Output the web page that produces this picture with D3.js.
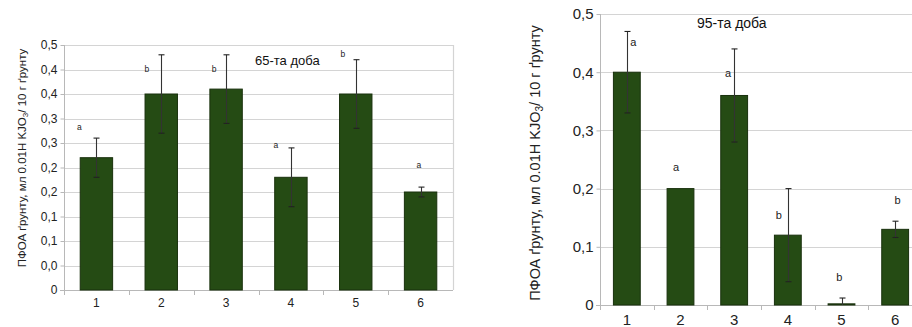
<!DOCTYPE html>
<html><head><meta charset="utf-8">
<script src="https://cdn.jsdelivr.net/npm/d3@7"></script>
<style>
html,body{margin:0;padding:0;background:#fff;overflow:hidden}
svg{display:block;font-family:"Liberation Sans",Arial,sans-serif}
</style></head><body>
<script>
// ---- data ----
const categories = ["1","2","3","4","5","6"];
// 65th day
const day65Means = [0.27, 0.40, 0.41, 0.23, 0.40, 0.20];
const day65Errors = [0.04, 0.08, 0.07, 0.06, 0.07, 0.01];
const day65Letters = ["a","b","b","a","b","a"];
const day65LetterValues = [0.327, 0.445, 0.445, 0.29, 0.476, 0.249];
const day65TickValues = [0,0.05,0.1,0.15,0.2,0.25,0.3,0.35,0.4,0.45,0.5];
const day65TickLabels = ["0","0,0","0,1","0,1","0,2","0,2","0,3","0,3","0,4","0,4","0,5"];
// 95th day
const day95Means = [0.40, 0.20, 0.36, 0.12, 0.002, 0.13];
const day95Errors = [0.07, 0, 0.08, 0.08, 0.01, 0.014];
const day95Letters = ["a","a","a","b","b","b"];
const day95LetterValues = [0.4455, 0.231, 0.391, 0.147, 0.042, 0.1735];
const day95TickValues = [0,0.1,0.2,0.3,0.4,0.5];
const day95TickLabels = ["0","0,1","0,2","0,3","0,4","0,5"];
const yTitle = ["ПФОА ґрунту, мл 0.01Н KJO", "3", "/ 10 г ґрунту"];

// ---- layout ----
const W = 912, H = 327;
const svg = d3.select("body").append("svg").attr("width", W).attr("height", H);

function drawChart(cfg) {
  const x = d3.scaleBand().domain(categories).range([cfg.x0, cfg.x1]).padding(0);
  const y = d3.scaleLinear().domain([0, 0.5]).range([cfg.y0, cfg.y1]);
  const g = svg.append("g");
  const bw = x.bandwidth() * 0.5;

  // gridlines
  g.selectAll(".grid").data(cfg.ticks.slice(1)).join("line")
    .attr("x1", cfg.x0).attr("x2", cfg.x1)
    .attr("y1", d => Math.round(y(d)) + 0.5).attr("y2", d => Math.round(y(d)) + 0.5)
    .attr("stroke", "#d4d4d4").attr("stroke-width", 1.2);
  if (cfg.rightBorder) {
    g.append("line").attr("x1", cfg.x1 + 0.5).attr("x2", cfg.x1 + 0.5)
      .attr("y1", cfg.y1).attr("y2", cfg.y0).attr("stroke", "#d4d4d4").attr("stroke-width", 1.2);
  }

  // y axis
  const yAxis = d3.axisLeft(y).tickValues(cfg.ticks).tickSize(4).tickPadding(3)
    .tickFormat((d, i) => cfg.tickLabels[i]);
  const ya = g.append("g").attr("transform", `translate(${cfg.x0 + 0.5},0)`).call(yAxis);
  ya.select(".domain").attr("stroke", "#b8b8b8").attr("d", `M0,${cfg.y0}V${cfg.y1}`);
  ya.selectAll(".tick line").attr("stroke", "#b8b8b8");
  ya.selectAll(".tick text").attr("fill", "#222").style("font-size", cfg.tickFont + "px")
    .style("font-family", "Liberation Sans, Arial, sans-serif");

  // x axis
  const xa = g.append("g").attr("transform", `translate(0,${Math.round(cfg.y0) + 0.5})`)
    .call(d3.axisBottom(x).tickSize(0).tickPadding(cfg.xPad));
  xa.select(".domain").attr("stroke", "#b8b8b8").attr("d", `M${cfg.x0 - 4},0H${cfg.x1}`);
  xa.selectAll(".tick text").attr("fill", "#222").style("font-size", cfg.tickFont + "px")
    .style("font-family", "Liberation Sans, Arial, sans-serif");
  g.selectAll(".sep").data(categories).join("line")
    .attr("x1", d => Math.round(x(d)) + 0.5).attr("x2", d => Math.round(x(d)) + 0.5)
    .attr("y1", cfg.y0).attr("y2", cfg.y0 + 5).attr("stroke", "#b8b8b8");

  // bars
  g.selectAll(".bar").data(cfg.means).join("rect")
    .attr("x", (d, i) => x(categories[i]) + x.bandwidth() / 2 - bw / 2)
    .attr("y", d => y(d)).attr("width", bw).attr("height", d => cfg.y0 - y(d))
    .attr("fill", "#254b14").attr("stroke", "#18300c").attr("stroke-width", 1);

  // error bars
  cfg.means.forEach((d, i) => {
    const e = cfg.errors[i];
    if (!(e > 0)) return;
    const s = g.append("g")
      .attr("transform", `translate(${Math.round(x(categories[i]) + x.bandwidth() / 2) + 0.5},0)`);
    s.append("line").attr("y1", y(d + e)).attr("y2", y(Math.max(0, d - e))).attr("stroke", "#333").attr("stroke-width", 1.1);
    s.append("line").attr("x1", -3).attr("x2", 3).attr("y1", y(d + e)).attr("y2", y(d + e)).attr("stroke", "#222").attr("stroke-width", 1.1);
    if (d - e > 0) s.append("line").attr("x1", -3).attr("x2", 3).attr("y1", y(d - e)).attr("y2", y(d - e)).attr("stroke", "#222").attr("stroke-width", 1.1);
  });

  // significance letters
  g.selectAll(".let").data(cfg.letters).join("text")
    .attr("x", (d, i) => x(categories[i]) + x.bandwidth() / 2 + cfg.letterDx[i])
    .attr("y", (d, i) => y(cfg.letterValues[i]))
    .attr("text-anchor", "middle").attr("fill", "#222")
    .style("font-size", cfg.letterFont + "px").text(d => d);

  // title
  g.append("text").attr("x", cfg.titleX).attr("y", cfg.titleY).attr("fill", "#111")
    .style("font-size", cfg.titleFont + "px").text(cfg.title);

  // y title
  const yt = g.append("text").attr("transform", `translate(${cfg.ytX},${cfg.ytY}) rotate(-90)`)
    .attr("text-anchor", "middle").attr("fill", "#222").style("font-size", cfg.ytFont + "px");
  yt.append("tspan").text(yTitle[0]);
  yt.append("tspan").attr("dy", cfg.ytFont * 0.2).style("font-size", (cfg.ytFont * 0.7) + "px").text(yTitle[1]);
  yt.append("tspan").attr("dy", -cfg.ytFont * 0.2).text(yTitle[2]);
}

drawChart({
  x0: 64, x1: 453, y0: 290, y1: 45,
  means: day65Means, errors: day65Errors, letters: day65Letters, letterValues: day65LetterValues,
  letterDx: [-17, -14.5, -12, -15, -13, -1.7], letterFont: 8.5,
  ticks: day65TickValues, tickLabels: day65TickLabels, tickFont: 12, xPad: 8,
  title: "65-та доба", titleX: 255, titleY: 65, titleFont: 13,
  ytX: 26, ytY: 158, ytFont: 11.5, rightBorder: true
});
drawChart({
  x0: 600, x1: 922, y0: 305, y1: 14,
  means: day95Means, errors: day95Errors, letters: day95Letters, letterValues: day95LetterValues,
  letterDx: [6.5, -4.5, -6, -9, -2.3, 2.4], letterFont: 11,
  ticks: day95TickValues, tickLabels: day95TickLabels, tickFont: 15, xPad: 9,
  title: "95-та доба", titleX: 697, titleY: 28, titleFont: 14,
  ytX: 540, ytY: 163, ytFont: 14.5, rightBorder: false
});
</script>
</body></html>
